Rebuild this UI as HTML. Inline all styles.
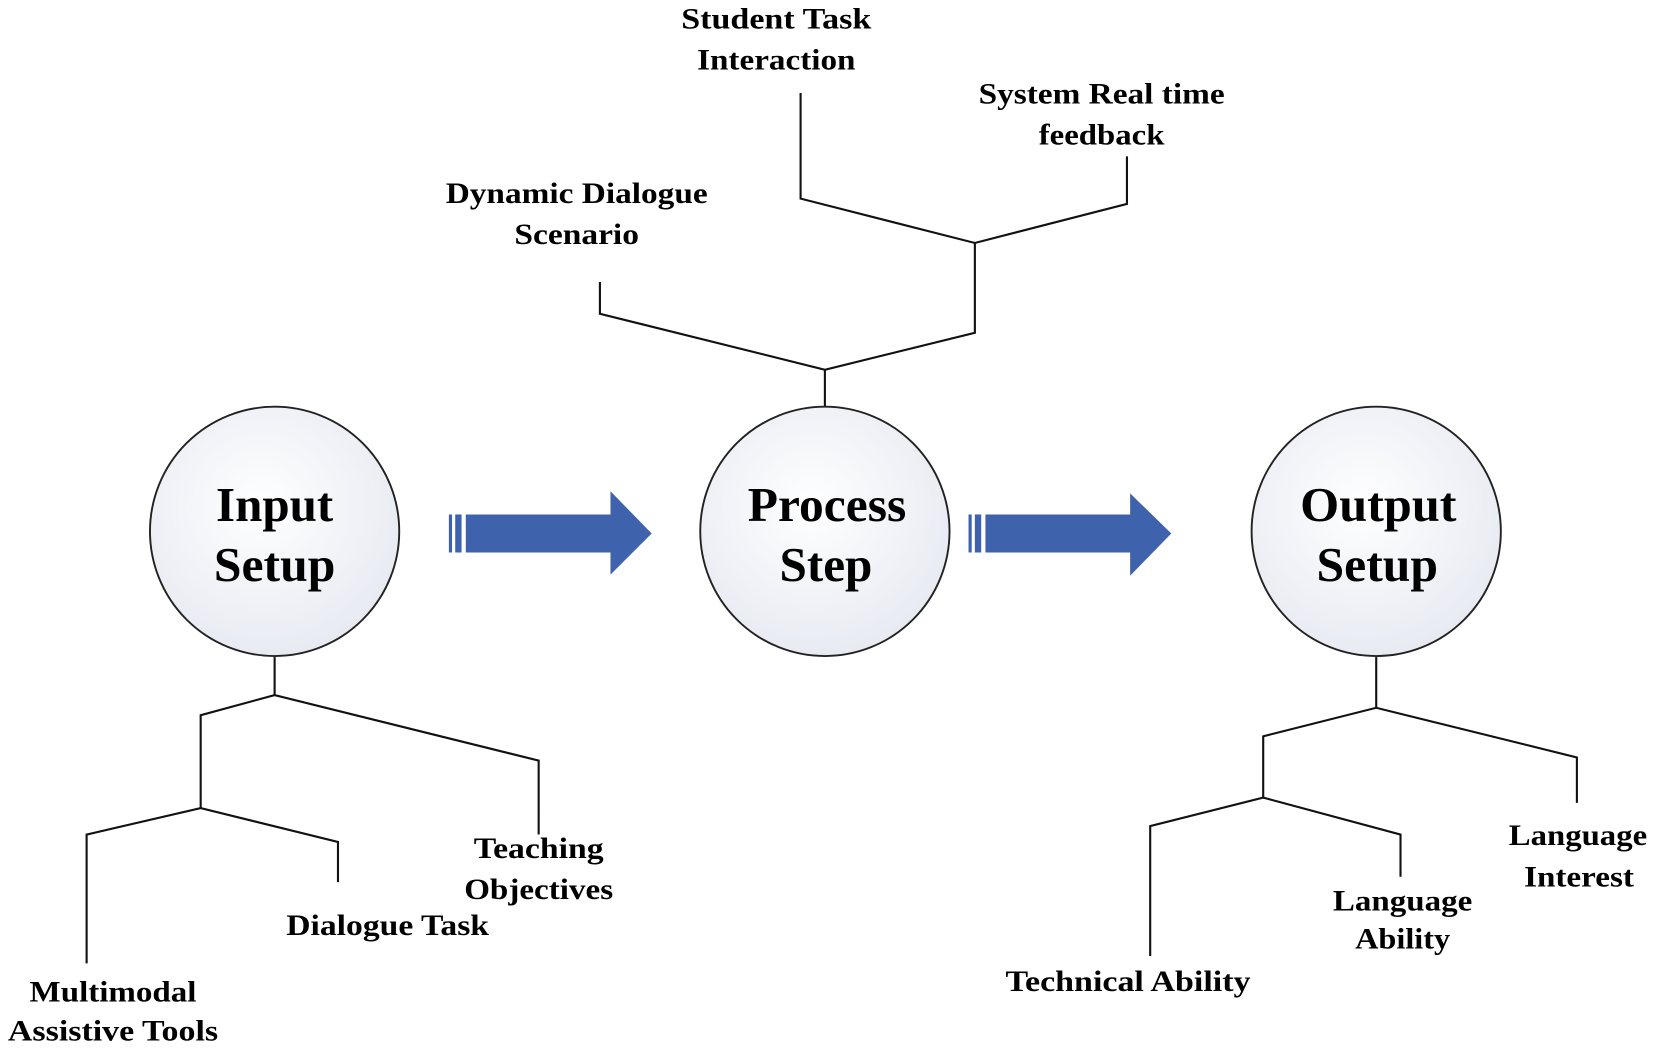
<!DOCTYPE html>
<html><head><meta charset="utf-8"><style>html,body{margin:0;padding:0;background:#fff;}svg{display:block}</style></head>
<body>
<svg width="1654" height="1049" viewBox="0 0 1566 993" preserveAspectRatio="none" xmlns="http://www.w3.org/2000/svg">
<defs>
<radialGradient id="g" cx="0.45" cy="0.4" r="0.7">
<stop offset="0" stop-color="#ffffff"/><stop offset="1" stop-color="#e4e7f0"/>
</radialGradient>
</defs>
<g fill="none" stroke="#111" stroke-width="2">
<polyline points="781,385 781,350"/>
<polyline points="568,267 568,297 781,350 923,315 923,230"/>
<polyline points="758,88 758,188 923,230 1067,193 1067,148"/>
<polyline points="260,622 260,658"/>
<polyline points="190,765 190,677 260,658 510,720 510,790"/>
<polyline points="82,912 82,790 190,765 320,797 320,835"/>
<polyline points="1303,622 1303,670"/>
<polyline points="1196,755 1196,697 1303,670 1493,717 1493,760"/>
<polyline points="1089,905 1089,782 1196,755 1326,790 1326,830"/>
</g>
<g fill="url(#g)" stroke="#222" stroke-width="1.8">
<circle cx="260" cy="503" r="118"/>
<circle cx="781" cy="503" r="118"/>
<circle cx="1303" cy="503" r="118"/>
</g>
<g fill="#3f62ad">
<rect x="425" y="487" width="3" height="36"/><rect x="431" y="487" width="6" height="36"/>
<polygon points="441,487 578,487 578,465 617,505 578,544 578,523 441,523"/>
<rect x="917" y="487" width="3" height="36"/><rect x="923" y="487" width="6" height="36"/>
<polygon points="933,487 1070,487 1070,467 1109,505 1070,545 1070,523 933,523"/>
</g>
<g font-family="Liberation Serif, serif" font-weight="bold" text-anchor="middle" fill="#000" lengthAdjust="spacingAndGlyphs">
<g font-size="46">
<text x="260" y="493" textLength="111" lengthAdjust="spacingAndGlyphs">Input</text><text x="260" y="550" textLength="115" lengthAdjust="spacingAndGlyphs">Setup</text>
<text x="783" y="493" textLength="150" lengthAdjust="spacingAndGlyphs">Process</text><text x="782" y="550" textLength="88" lengthAdjust="spacingAndGlyphs">Step</text>
<text x="1305" y="493" textLength="148" lengthAdjust="spacingAndGlyphs">Output</text><text x="1304" y="550" textLength="115" lengthAdjust="spacingAndGlyphs">Setup</text>
</g>
<g font-size="28">
<text x="735" y="27" textLength="180" lengthAdjust="spacingAndGlyphs">Student Task</text><text x="735" y="66" textLength="150" lengthAdjust="spacingAndGlyphs">Interaction</text>
<text x="1043" y="98" textLength="233" lengthAdjust="spacingAndGlyphs">System Real time</text><text x="1043" y="137" textLength="119" lengthAdjust="spacingAndGlyphs">feedback</text>
<text x="546" y="192" textLength="248" lengthAdjust="spacingAndGlyphs">Dynamic Dialogue</text><text x="546" y="231" textLength="118" lengthAdjust="spacingAndGlyphs">Scenario</text>
<text x="510" y="812" textLength="123" lengthAdjust="spacingAndGlyphs">Teaching</text><text x="510" y="851" textLength="141" lengthAdjust="spacingAndGlyphs">Objectives</text>
<text x="367" y="885" textLength="192" lengthAdjust="spacingAndGlyphs">Dialogue Task</text>
<text x="107" y="948" textLength="158" lengthAdjust="spacingAndGlyphs">Multimodal</text><text x="107" y="985" textLength="199" lengthAdjust="spacingAndGlyphs">Assistive Tools</text>
<text x="1494" y="800" textLength="131" lengthAdjust="spacingAndGlyphs">Language</text><text x="1495" y="839" textLength="104" lengthAdjust="spacingAndGlyphs">Interest</text>
<text x="1328" y="862" textLength="132" lengthAdjust="spacingAndGlyphs">Language</text><text x="1328" y="898" textLength="90" lengthAdjust="spacingAndGlyphs">Ability</text>
<text x="1068" y="938" textLength="232" lengthAdjust="spacingAndGlyphs">Technical Ability</text>
</g>
</g>
</svg>
</body></html>
